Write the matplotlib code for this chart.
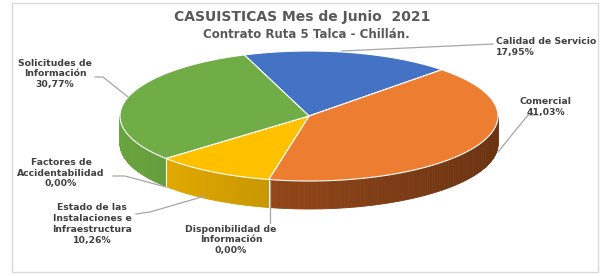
import numpy as np
import matplotlib
matplotlib.use("Agg")
import matplotlib.pyplot as plt
from matplotlib.patches import Polygon, Rectangle
from matplotlib.colors import to_rgb

categories = ["Calidad de Servicio", "Comercial", "Disponibilidad de\nInformación",
              "Estado de las\nInstalaciones e\nInfraestructura", "Factores de\nAccidentabilidad",
              "Solicitudes de\nInformación"]
values = [17.95, 41.03, 0.00, 10.26, 0.00, 30.77]
pct_labels = ["17,95%", "41,03%", "0,00%", "10,26%", "0,00%", "30,77%"]
colors = ["#4472C4", "#ED7D31", "#A5A5A5", "#FFC000", "#5B9BD5", "#70AD47"]
side_colors = ["#2F5597", "#9A4A1A", "#7B7B7B", "#D29E00", "#41719C", "#5E9238"]

W, H = 602, 276
fig = plt.figure(figsize=(W / 100, H / 100), dpi=100)
ax = fig.add_axes([0, 0, 1, 1])
ax.set_xlim(0, W)
ax.set_ylim(H, 0)
ax.axis("off")

# frame
ax.add_patch(Rectangle((12, 3), 586, 269, fill=False, ec="#D9D9D9", lw=1.0))

cx, cy, rx, ry, depth = 309, 116, 189, 65, 28
start = 110.0

def pt(theta_deg, dy=0.0):
    t = np.radians(theta_deg)
    return cx + rx * np.cos(t), cy - ry * np.sin(t) + dy

total = sum(values)
angles = []
a = start
for v in values:
    span = 360.0 * v / total
    angles.append((a - span, a))
    a -= span

def shade(c, f):
    r, g, b = to_rgb(c)
    return (min(r * f, 1), min(g * f, 1), min(b * f, 1))

# side walls (front half)
for (a0, a1), sc in zip(angles, side_colors):
    if a1 - a0 <= 0:
        continue
    s = a0
    while s < a1:
        e = min(s + 1.0, a1)
        mid = np.radians((s + e) / 2)
        if np.sin(mid) < 0:
            f = 1.12 - 0.42 * (np.cos(mid) + 1) / 2
            ts = np.linspace(s, e, 3)
            top = [pt(t) for t in ts]
            bot = [pt(t, depth) for t in ts[::-1]]
            col = shade(sc, f)
            ax.add_patch(Polygon(top + bot, closed=True, fc=col, ec=col, lw=0.6))
        s = e

# white seams on side wall at slice boundaries in front
for (a0, a1) in angles:
    if np.sin(np.radians(a0)) < 0 and a1 - a0 > 0:
        x0, y0 = pt(a0)
        ax.plot([x0, x0], [y0, y0 + depth], color="white", lw=0.8)

# top surfaces
for (a0, a1), c in zip(angles, colors):
    if a1 - a0 <= 0:
        continue
    ts = np.linspace(a0, a1, 200)
    verts = [(cx, cy)] + [pt(t) for t in ts]
    ax.add_patch(Polygon(verts, closed=True, fc=c, ec="white", lw=0.8, joinstyle="round"))

txt_kw = dict(fontsize=6.7, fontweight="bold", color="#404040", family="DejaVu Sans")
lc = "#A6A6A6"

def label(text, x, y, ha, line):
    ax.text(x, y, text, ha=ha, va="center", multialignment="center" if ha == "center" else "left",
            linespacing=1.25, **txt_kw)
    ax.plot(line[0], line[1], color=lc, lw=0.9)

label(categories[0] + "\n" + pct_labels[0], 496, 47, "left", ([342, 493], [51, 44]))
label(categories[1] + "\n" + pct_labels[1], 546, 107, "center", ([537, 528, 498], [115, 115, 152]))
label(categories[2] + "\n" + pct_labels[2], 231, 240, "center", ([270, 270], [181, 223]))
label(categories[3] + "\n" + pct_labels[3], 92, 224, "center", ([136, 150, 205], [214, 212, 196]))
label(categories[4] + "\n" + pct_labels[4], 61, 173, "center", ([113, 125, 166], [176, 176, 187]))
label(categories[5] + "\n" + pct_labels[5], 55, 74, "center", ([95, 103, 128], [77, 77, 97]))

ax.text(302, 17, "CASUISTICAS Mes de Junio  2021", ha="center", va="center",
        fontsize=10, fontweight="bold", color="#595959")
ax.text(306, 34, "Contrato Ruta 5 Talca - Chillán.", ha="center", va="center",
        fontsize=8.5, fontweight="bold", color="#595959")

fig.savefig("out.png", dpi=100)
